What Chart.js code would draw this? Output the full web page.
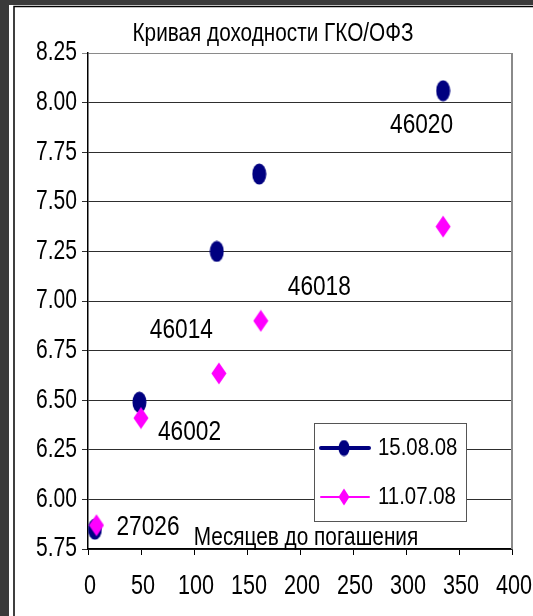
<!DOCTYPE html>
<html>
<head>
<meta charset="utf-8">
<script src="https://cdn.jsdelivr.net/npm/chart.js@4/dist/chart.umd.min.js"></script>
<style>
  html, body { margin: 0; padding: 0; background: #fff; }
  #wrap { width: 533px; height: 616px; }
</style>
</head>
<body>
<div id="wrap"><canvas id="c" width="533" height="616"></canvas></div>
<script>
// Yield curve: months to maturity vs yield, two dates
const seriesNames = ['15.08.08', '11.07.08'];
const monthsAug = [6.5, 48.5, 121.5, 161.5, 335];
const yieldAug  = [5.85, 6.49, 7.25, 7.64, 8.06];
const monthsJul = [8, 50, 123.5, 163, 335];
const yieldJul  = [5.87, 6.41, 6.635, 6.90, 7.375];
const bondCodes = ['27026', '46002', '46014', '46018', '46020'];
const xTickLabels = ['0', '50', '100', '150', '200', '250', '300', '350', '400'];
const yTickLabels = ['5.75', '6.00', '6.25', '6.50', '6.75', '7.00', '7.25', '7.50', '7.75', '8.00', '8.25'];
const titleText = 'Кривая доходности ГКО/ОФЗ';
const xAxisTitle = 'Месяцев до погашения';

const NAVY = '#000080';
const MAGENTA = '#ff00ff';
const FONT = '"Liberation Sans", Arial, sans-serif';

// Squashed marker sprites (tall ellipse and tall diamond)
function ellipseSprite(w, h, color) {
  const c = document.createElement('canvas');
  c.width = w; c.height = h;
  const g = c.getContext('2d');
  g.fillStyle = color;
  g.beginPath();
  g.ellipse(w / 2, h / 2, w / 2 - 0.5, h / 2 - 0.5, 0, 0, Math.PI * 2);
  g.fill();
  return c;
}
function diamondSprite(w, h, color) {
  const c = document.createElement('canvas');
  c.width = w; c.height = h;
  const g = c.getContext('2d');
  g.fillStyle = color;
  g.beginPath();
  g.moveTo(w / 2, 0.5);
  g.lineTo(w - 0.5, h / 2);
  g.lineTo(w / 2, h - 0.5);
  g.lineTo(0.5, h / 2);
  g.closePath();
  g.fill();
  return c;
}
const circleBig = ellipseSprite(15, 22, NAVY);
const diamondBig = diamondSprite(16, 23, MAGENTA);
const circleSmall = ellipseSprite(12, 17, NAVY);
const diamondSmall = diamondSprite(12, 18, MAGENTA);

// Narrow text: regular face squeezed horizontally
function drawText(ctx, s, x, y, size, sx, align) {
  ctx.save();
  ctx.font = size + 'px ' + FONT;
  ctx.fillStyle = '#000';
  ctx.textBaseline = 'middle';
  ctx.textAlign = 'left';
  const w = ctx.measureText(s).width * sx;
  const left = align === 'center' ? x - w / 2 : (align === 'right' ? x - w : x);
  ctx.translate(left, y);
  ctx.scale(sx, 1);
  ctx.fillText(s, 0, 0);
  ctx.restore();
}

// Bond code labels next to points: [dataset index, point index, dx, dy, align]
const codePlacement = [
  [1, 0, 20, 2, 'left'],
  [1, 1, 17, 14, 'left'],
  [1, 2, -6, -43, 'right'],
  [1, 3, 27, -33, 'left'],
  [0, 4, 10, 35, 'right']
];

const framePlugin = {
  id: 'frame',
  beforeDraw(chart) {
    const ctx = chart.ctx;
    ctx.save();
    ctx.fillStyle = '#fff';
    ctx.fillRect(0, 0, chart.width, chart.height);
    ctx.fillStyle = '#3a3a3a';
    ctx.fillRect(0, 0, 9, chart.height);
    ctx.fillRect(0, 0, chart.width, 5);
    ctx.strokeStyle = '#000';
    ctx.lineWidth = 1.5;
    ctx.beginPath();
    ctx.moveTo(14, chart.height);
    ctx.lineTo(14, 6.5);
    ctx.lineTo(chart.width, 6.5);
    ctx.stroke();
    ctx.restore();
  },
  beforeDatasetsDraw(chart) {
    const ctx = chart.ctx, a = chart.chartArea;
    ctx.save();
    ctx.strokeStyle = '#8a8a8a';
    ctx.lineWidth = 2;
    ctx.beginPath();
    ctx.moveTo(a.right, a.top);
    ctx.lineTo(a.right, a.bottom);
    ctx.stroke();
    ctx.restore();
  },
  afterDraw(chart) {
    const ctx = chart.ctx;
    const xs = chart.scales.x, ys = chart.scales.y;

    // title
    drawText(ctx, titleText, 273, 34, 25, 0.83, 'center');

    // y tick labels
    yTickLabels.forEach(t => {
      drawText(ctx, t, 77, ys.getPixelForValue(Number(t)), 27, 0.78, 'right');
    });
    // x tick labels
    xTickLabels.forEach(t => {
      drawText(ctx, t, xs.getPixelForValue(Number(t)) + 2, 587, 27, 0.8, 'center');
    });

    // axis title inside the plot
    drawText(ctx, xAxisTitle, 306, 538, 26, 0.8, 'center');

    // bond codes
    codePlacement.forEach((p, i) => {
      const el = chart.getDatasetMeta(p[0]).data[p[1]];
      drawText(ctx, bondCodes[i], el.x + p[2], el.y + p[3], 27, 0.84, p[4]);
    });

    // legend
    const bx = 314, by = 423, bw = 152, bh = 98;
    ctx.save();
    ctx.fillStyle = '#fff';
    ctx.fillRect(bx, by, bw, bh);
    ctx.strokeStyle = '#555';
    ctx.lineWidth = 1;
    ctx.strokeRect(bx + 0.5, by + 0.5, bw, bh);
    const rows = [
      { y: 448, color: NAVY, lw: 4, sprite: circleSmall },
      { y: 497, color: MAGENTA, lw: 2, sprite: diamondSmall }
    ];
    rows.forEach((r, i) => {
      ctx.strokeStyle = r.color;
      ctx.lineWidth = r.lw;
      ctx.lineCap = 'round';
      ctx.beginPath();
      ctx.moveTo(321, r.y);
      ctx.lineTo(369, r.y);
      ctx.stroke();
      ctx.drawImage(r.sprite, 344 - r.sprite.width / 2, r.y - r.sprite.height / 2);
      drawText(ctx, seriesNames[i], 378, r.y, 24, 0.85, 'left');
    });
    ctx.restore();
  }
};

const toPoints = (xs, ys) => xs.map((x, i) => ({ x: x, y: ys[i] }));

new Chart(document.getElementById('c'), {
  type: 'scatter',
  data: {
    datasets: [
      {
        label: seriesNames[0],
        data: toPoints(monthsAug, yieldAug),
        pointStyle: circleBig,
        backgroundColor: NAVY,
        borderColor: NAVY,
        showLine: false,
        order: 1
      },
      {
        label: seriesNames[1],
        data: toPoints(monthsJul, yieldJul),
        pointStyle: diamondBig,
        backgroundColor: MAGENTA,
        borderColor: MAGENTA,
        showLine: false,
        order: 0
      }
    ]
  },
  options: {
    responsive: false,
    animation: false,
    events: [],
    layout: { padding: { left: 82, right: 21, top: 53, bottom: 61 } },
    plugins: {
      legend: { display: false },
      title: { display: false },
      tooltip: { enabled: false }
    },
    scales: {
      x: {
        type: 'linear',
        min: 0, max: 400,
        ticks: { display: false, stepSize: 50 },
        grid: { drawOnChartArea: false, drawTicks: true, tickLength: 6, color: '#000', lineWidth: 1 },
        border: { color: '#000', width: 1.5 }
      },
      y: {
        type: 'linear',
        min: 5.75, max: 8.25,
        ticks: { display: false, stepSize: 0.25 },
        grid: {
          tickLength: 6,
          lineWidth: 1,
          color: c => (c.tick && c.tick.value === 8.25) ? '#8a8a8a' : '#2e2e2e'
        },
        border: { color: '#000', width: 1.5 }
      }
    }
  },
  plugins: [framePlugin]
});
</script>
</body>
</html>
